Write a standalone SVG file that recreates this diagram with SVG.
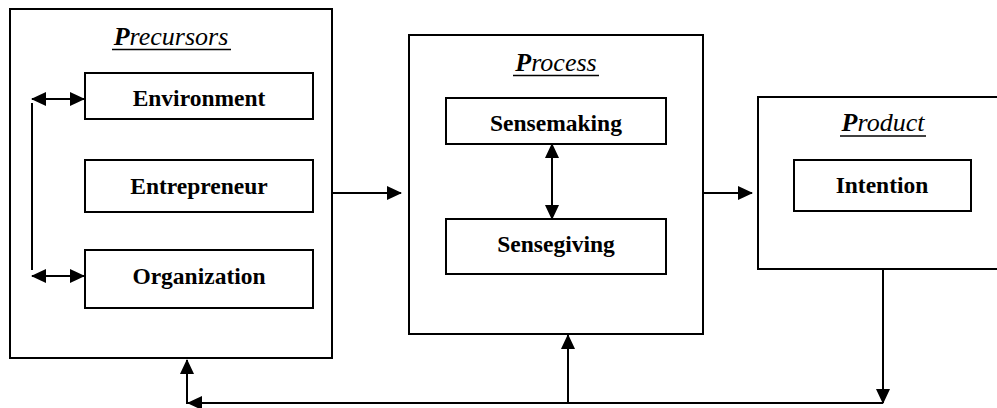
<svg xmlns="http://www.w3.org/2000/svg" width="997" height="408" viewBox="0 0 997 408">
<style>
.box{fill:#fff;stroke:#000;stroke-width:2}
.lbl{font-family:"Liberation Serif","Times New Roman",serif;font-weight:bold;font-size:23.5px;text-anchor:middle;fill:#000}
.ttl{font-family:"Liberation Serif","Times New Roman",serif;font-style:italic;font-size:26px;text-anchor:middle;fill:#000}
.ttl .b{font-weight:bold}
.ul{stroke:#000;stroke-width:1.6}
.con{fill:none;stroke:#000;stroke-width:2}
</style>
<defs>
<marker id="ah" viewBox="0 0 15 14" refX="14" refY="7" markerWidth="15" markerHeight="14" markerUnits="userSpaceOnUse" orient="auto-start-reverse">
<path d="M0,0 L15,7 L0,14 Z" fill="#000"/>
</marker>
</defs>
<rect width="997" height="408" fill="#fff"/>
<g id="precursors">
<rect class="box" x="10" y="9" width="322" height="349"/>
<text class="ttl" x="171" y="45"><tspan class="b">P</tspan>recursors</text>
<line class="ul" x1="112" y1="49.5" x2="231" y2="49.5"/>
</g>
<g id="environment">
<rect class="box" x="85" y="73" width="228" height="46"/>
<text class="lbl" x="199" y="106">Environment</text>
</g>
<g id="entrepreneur">
<rect class="box" x="85" y="160" width="228" height="52"/>
<text class="lbl" x="199" y="194">Entrepreneur</text>
</g>
<g id="organization">
<rect class="box" x="85" y="250" width="228" height="58"/>
<text class="lbl" x="199" y="284">Organization</text>
</g>
<g id="process">
<rect class="box" x="409" y="35" width="294" height="299"/>
<text class="ttl" x="556" y="71"><tspan class="b">P</tspan>rocess</text>
<line class="ul" x1="513" y1="75.5" x2="599" y2="75.5"/>
</g>
<g id="sensemaking">
<rect class="box" x="446" y="98" width="220" height="46"/>
<text class="lbl" x="556" y="131">Sensemaking</text>
</g>
<g id="sensegiving">
<rect class="box" x="446" y="219" width="220" height="55"/>
<text class="lbl" x="556" y="252">Sensegiving</text>
</g>
<g id="product">
<rect class="box" x="758" y="97" width="260" height="172"/>
<text class="ttl" x="883" y="131"><tspan class="b">P</tspan>roduct</text>
<line class="ul" x1="840" y1="136" x2="926" y2="136"/>
</g>
<g id="intention">
<rect class="box" x="794" y="160" width="177" height="51"/>
<text class="lbl" x="882" y="193">Intention</text>
</g>
<g id="connectors">
<path class="con" d="M32,99 H84" marker-start="url(#ah)" marker-end="url(#ah)"/>
<path class="con" d="M32,276 H84" marker-start="url(#ah)" marker-end="url(#ah)"/>
<path class="con" d="M32,103 V270"/>
<path class="con" d="M332,193 H401" marker-end="url(#ah)"/>
<path class="con" d="M552,144 V219" marker-start="url(#ah)" marker-end="url(#ah)"/>
<path class="con" d="M703,193 H752" marker-end="url(#ah)"/>
<path class="con" d="M883,269 V403" marker-end="url(#ah)"/>
<path class="con" d="M883,403 H188" marker-end="url(#ah)"/>
<path class="con" d="M187,404 V360" marker-end="url(#ah)"/>
<path class="con" d="M568,403 V335" marker-end="url(#ah)"/>
</g>
</svg>
